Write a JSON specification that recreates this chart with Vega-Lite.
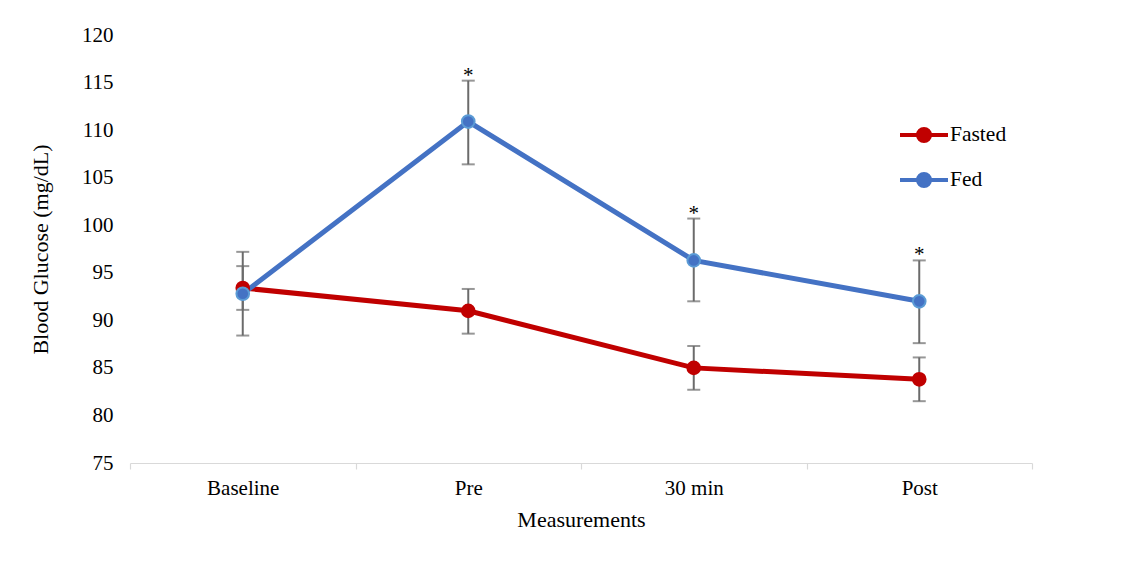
{
  "$schema": "https://vega.github.io/schema/vega-lite/v6.json",
  "autosize": "none",
  "width": 902,
  "height": 428,
  "padding": {"left": 130, "top": 35, "right": 90, "bottom": 98},
  "background": "white",
  "config": {
    "view": {"stroke": null},
    "font": "Liberation Serif",
    "axis": {"labelFont": "Liberation Serif", "titleFont": "Liberation Serif", "labelColor": "#000000", "titleColor": "#000000", "titleFontWeight": "normal"}
  },
  "data": {
    "values": [
      {"time": "Baseline", "group": "Fasted", "mean": 93.4, "lower": 91.1, "upper": 95.7, "sig": ""},
      {"time": "Pre", "group": "Fasted", "mean": 91.0, "lower": 88.6, "upper": 93.3, "sig": ""},
      {"time": "30 min", "group": "Fasted", "mean": 85.0, "lower": 82.7, "upper": 87.3, "sig": ""},
      {"time": "Post", "group": "Fasted", "mean": 83.8, "lower": 81.5, "upper": 86.1, "sig": ""},
      {"time": "Baseline", "group": "Fed", "mean": 92.8, "lower": 88.4, "upper": 97.2, "sig": ""},
      {"time": "Pre", "group": "Fed", "mean": 110.9, "lower": 106.4, "upper": 115.2, "sig": "*"},
      {"time": "30 min", "group": "Fed", "mean": 96.3, "lower": 92.0, "upper": 100.7, "sig": "*"},
      {"time": "Post", "group": "Fed", "mean": 92.0, "lower": 87.6, "upper": 96.3, "sig": "*"}
    ]
  },
  "encoding": {
    "x": {
      "field": "time", "type": "nominal", "sort": ["Baseline", "Pre", "30 min", "Post"],
      "scale": {"type": "band", "paddingInner": 0, "paddingOuter": 0},
      "axis": {"title": "Measurements", "titleFontSize": 22, "titlePadding": 11, "labelFontSize": 21, "labelAngle": 0, "labelPadding": 8,
               "domainColor": "#d9d9d9", "domainWidth": 1.2, "tickColor": "#d9d9d9", "tickSize": 6, "tickWidth": 1.2, "tickBand": "extent", "grid": false}
    }
  },
  "layer": [
    {
      "mark": {"type": "rule", "color": "#6b6b6b", "strokeWidth": 2},
      "encoding": {
        "y": {"field": "lower", "type": "quantitative", "scale": {"domain": [75, 120]},
              "axis": {"title": "Blood Glucose (mg/dL)", "titleFontSize": 22, "titlePadding": 29, "labelFontSize": 21, "labelPadding": 17,
                       "values": [75, 80, 85, 90, 95, 100, 105, 110, 115, 120], "domain": false, "ticks": false, "grid": false}},
        "y2": {"field": "upper"}
      }
    },
    {
      "mark": {"type": "tick", "color": "#6b6b6b", "size": 13, "thickness": 2, "orient": "horizontal"},
      "encoding": {"y": {"field": "lower", "type": "quantitative"}}
    },
    {
      "mark": {"type": "tick", "color": "#6b6b6b", "size": 13, "thickness": 2, "orient": "horizontal"},
      "encoding": {"y": {"field": "upper", "type": "quantitative"}}
    },
    {
      "mark": {"type": "line", "strokeWidth": 5},
      "encoding": {
        "y": {"field": "mean", "type": "quantitative"},
        "color": {
          "field": "group", "type": "nominal",
          "scale": {"domain": ["Fasted", "Fed"], "range": ["#C00000", "#4472C4"]},
          "legend": {
            "title": null, "orient": "none", "legendX": 768, "legendY": 74,
            "symbolType": "M-1,0L1,0M-0.25,0A0.25,0.25,0,1,1,0.25,0A0.25,0.25,0,1,1,-0.25,0Z",
            "symbolSize": 2304, "symbolStrokeWidth": 4, "labelFontSize": 21.5, "labelColor": "#000000",
            "labelFont": "Liberation Serif", "labelOffset": 0, "rowPadding": 5,
            "encode": {"symbols": {"update": {"fill": {"scale": "color", "field": "value"}}}}
          }
        }
      }
    },
    {
      "mark": {"type": "point", "filled": true, "size": 160, "strokeWidth": 2, "opacity": 1},
      "encoding": {
        "y": {"field": "mean", "type": "quantitative"},
        "fill": {"field": "group", "type": "nominal", "scale": {"domain": ["Fasted", "Fed"], "range": ["#C00000", "#4472C4"]}, "legend": null},
        "stroke": {"field": "group", "type": "nominal", "scale": {"domain": ["Fasted", "Fed"], "range": ["#C00000", "#5B9BD5"]}, "legend": null}
      }
    },
    {
      "mark": {"type": "text", "fontSize": 21, "font": "Liberation Serif", "color": "#000000", "baseline": "alphabetic", "dy": 1},
      "encoding": {
        "y": {"field": "upper", "type": "quantitative"},
        "text": {"field": "sig"}
      }
    }
  ]
}
